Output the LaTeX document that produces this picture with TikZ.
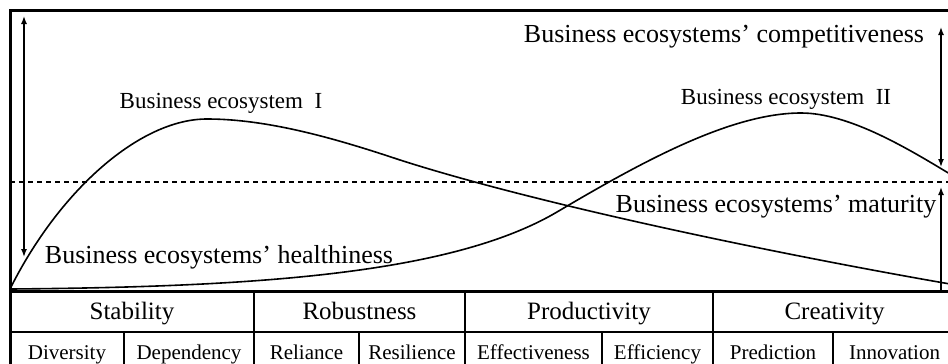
\documentclass[tikz,border=0pt]{standalone}
\usepackage{fontspec}
\setmainfont{Liberation Serif}
\usetikzlibrary{arrows.meta,positioning}

\tikzset{
	pframe/.style={draw=black, line width=1.5pt},
	tcell/.style={draw=black, line width=1pt, inner sep=0pt, outer sep=0pt,
		minimum height=20.5pt, text height=9.5pt, text depth=2pt,
		font=\fontsize{12.5}{14}\selectfont},
	tsub/.style={draw=black, line width=1pt, inner sep=0pt, outer sep=0pt,
		minimum height=20pt, text height=8.5pt, text depth=1.5pt,
		font=\fontsize{10.5}{12}\selectfont},
	harr/.style={{Latex[length=4pt,width=3pt]}-{Latex[length=4pt,width=3pt]},
		line width=0.7pt},
	uarr/.style={-{Latex[length=4pt,width=3pt]}, line width=0.7pt},
	hcurve/.style={line width=0.8pt},
	hdash/.style={line width=0.6pt, dash pattern=on 2.5pt off 2pt},
	clabel/.style={font=\fontsize{11.5}{13}\selectfont, inner sep=0pt, anchor=base},
	blabel/.style={font=\fontsize{13}{15}\selectfont, inner sep=0pt, anchor=base},
}

\begin{document}
\begin{tikzpicture}[x=0.5pt, y=-0.5pt]
	\useasboundingbox (0,0) rectangle (948,364);

	% dimensions of health
	\node[tcell, minimum width=122pt, anchor=north west] (stab) at (10,291) {Stability};
	\node[tcell, minimum width=105.5pt, right=0pt of stab] (robu) {Robustness};
	\node[tcell, minimum width=124pt, right=0pt of robu] (prod) {Productivity};
	\node[tcell, minimum width=121.5pt, right=0pt of prod] (crea) {Creativity};
	% indicators
	\node[tsub, minimum width=57pt, anchor=north west] (dive) at (stab.south west) {Diversity};
	\node[tsub, minimum width=65pt, right=0pt of dive] (depe) {Dependency};
	\node[tsub, minimum width=52.5pt, right=0pt of depe] (reli) {Reliance};
	\node[tsub, minimum width=53pt, right=0pt of reli] (resi) {Resilience};
	\node[tsub, minimum width=68.5pt, right=0pt of resi] (effe) {Effectiveness};
	\node[tsub, minimum width=55.5pt, right=0pt of effe] (effi) {Efficiency};
	\node[tsub, minimum width=60pt, right=0pt of effi] (pred) {Prediction};
	\node[tsub, minimum width=61.5pt, right=0pt of pred] (inno) {Innovation};

	% outer frame
	\draw[pframe] (10,10) rectangle (956,372);
	\draw[pframe] (stab.north west) -- (crea.north east);

	% maturity threshold
	\coordinate (dl) at (10,182);
	\coordinate (dr) at (956,182);
	\draw[hdash] (dl) -- (dr);

	% life curves
	\draw[hcurve] (11,287) .. controls (60,190) and (140,119) .. (207,119)
		.. controls (270,119) and (340,140) .. (400,160)
		.. controls (550,208) and (800,258) .. (950,284);
	\draw[hcurve] (11,289) .. controls (250,287) and (450,275) .. (557,212)
		.. controls (640,163) and (730,113) .. (801,113)
		.. controls (850,113) and (910,150) .. (950,174);

	\node[clabel] (eco1) at (221,108) {Business ecosystem\enspace I};
	\node[clabel] (eco2) at (786,104) {Business ecosystem\enspace II};
	\node[blabel] (heal) at (219,263) {Business ecosystems’ healthiness};
	\node[blabel] (comp) at (724,42) {Business ecosystems’ competitiveness};
	\node[blabel] (matu) at (776,212) {Business ecosystems’ maturity};

	% scales
	\coordinate (htop) at (24,16);
	\coordinate (hbot) at (24,257);
	\coordinate (ctop) at (941,27);
	\coordinate (cbot) at (941,167);
	\coordinate (mtop) at (941,187);
	\coordinate (mbot) at (941,290);
	\draw[harr] (hbot) -- (htop);
	\draw[harr] (cbot) -- (ctop);
	\draw[uarr] (mbot) -- (mtop);
\end{tikzpicture}
\end{document}
